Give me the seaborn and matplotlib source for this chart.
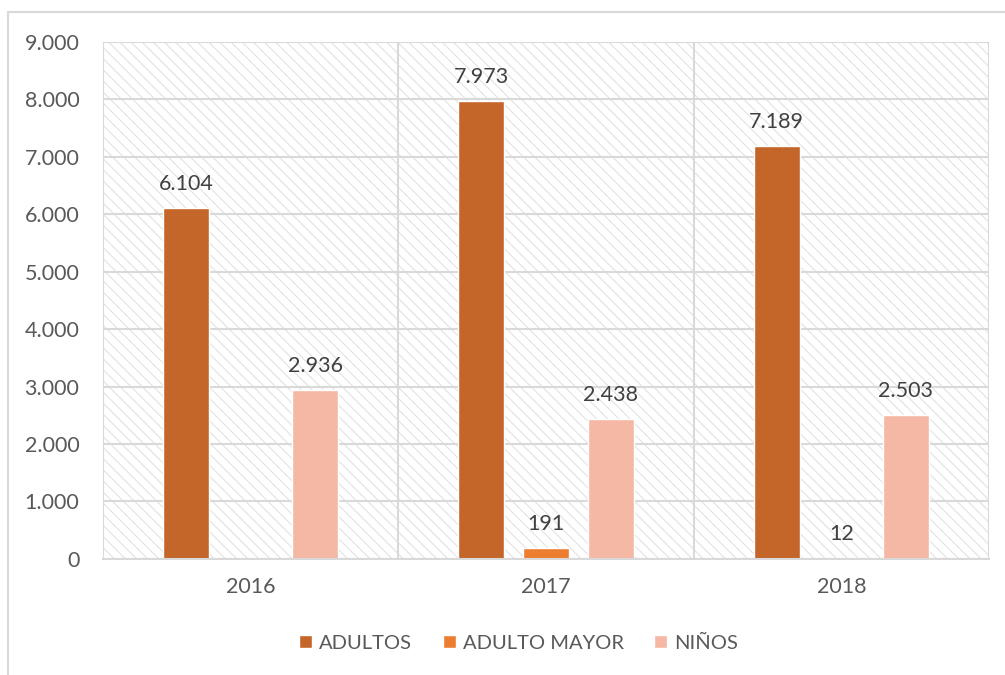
import numpy as np
import pandas as pd
import matplotlib.pyplot as plt
import seaborn as sns
from matplotlib.patches import Rectangle
from matplotlib.ticker import FuncFormatter

sns.set_theme(style="white")
plt.rcParams['font.family'] = ['Lato', 'DejaVu Sans']
plt.rcParams['hatch.linewidth'] = 0.8

# --- Data ---
years = ['2016', '2017', '2018']
groups = ['ADULTOS', 'ADULTO MAYOR', 'NIÑOS']
adultos = [6104, 7973, 7189]
adulto_mayor = [np.nan, 191, 12]
ninos = [2936, 2438, 2503]
colors = ['#C4652A', '#ED7D31', '#F4B8A4']

df = pd.DataFrame({
    'year': years * 3,
    'group': np.repeat(groups, 3),
    'value': adultos + adulto_mayor + ninos,
})

text_color = '#595959'
grid_color = '#d9d9d9'


def dot_thousands(v, pos=None):
    return f"{v:,.0f}".replace(',', '.')


# --- Plotting ---
fig = plt.figure(figsize=(10.05, 6.75), dpi=100)
ax = fig.add_axes([0.1025, 0.172, 0.8815, 0.766])

# hatched background of the plot area
ax.add_patch(Rectangle((0, 0), 1, 1, transform=ax.transAxes, facecolor='white',
                       edgecolor='#e2e2e2', hatch='\\' * 3, lw=0, zorder=0))

sns.barplot(data=df, x='year', y='value', hue='group', hue_order=groups,
            palette=colors, width=0.656, gap=0.287, saturation=1,
            legend=True, ax=ax, zorder=3)

for c in ax.containers:
    ax.bar_label(c, labels=[dot_thousands(h) for h in c.datavalues],
                 padding=10, fontsize=15.5, color='#404040')

ax.set_ylim(0, 9000)
ax.set_xlim(-0.5, 2.5)
ax.set_yticks(np.arange(0, 9001, 1000))
ax.yaxis.set_major_formatter(FuncFormatter(dot_thousands))
ax.grid(axis='y', color=grid_color, lw=1.5, zorder=1)
ax.set_axisbelow(True)
for xv in [-0.5, 0.5, 1.5, 2.5]:
    ax.axvline(xv, color=grid_color, lw=1.5, zorder=1)

for s in ['top', 'right', 'left']:
    ax.spines[s].set_visible(False)
ax.spines['bottom'].set_color(grid_color)
ax.spines['bottom'].set_linewidth(1.5)
ax.spines['bottom'].set_zorder(4)

ax.tick_params(axis='both', length=0, labelsize=15.5, labelcolor=text_color)
ax.tick_params(axis='y', pad=17)
ax.tick_params(axis='x', pad=13)
ax.set_xlabel('')
ax.set_ylabel('')

# legend at the bottom
handles, labels = ax.get_legend_handles_labels()
ax.get_legend().remove()
fig.legend(handles, labels, loc='center', bbox_to_anchor=(0.516, 0.047), ncol=3,
           frameon=False, fontsize=14.5, labelcolor=text_color,
           handlelength=0.65, handleheight=0.65, handletextpad=0.35,
           columnspacing=1.5)

# outer chart border
fig.patches.append(Rectangle((8 / 1005, -0.1), 1.2, 1.1 - 12 / 675,
                             transform=fig.transFigure, fill=False,
                             edgecolor=grid_color, lw=1.5))

fig.savefig('out.png', dpi=100)
